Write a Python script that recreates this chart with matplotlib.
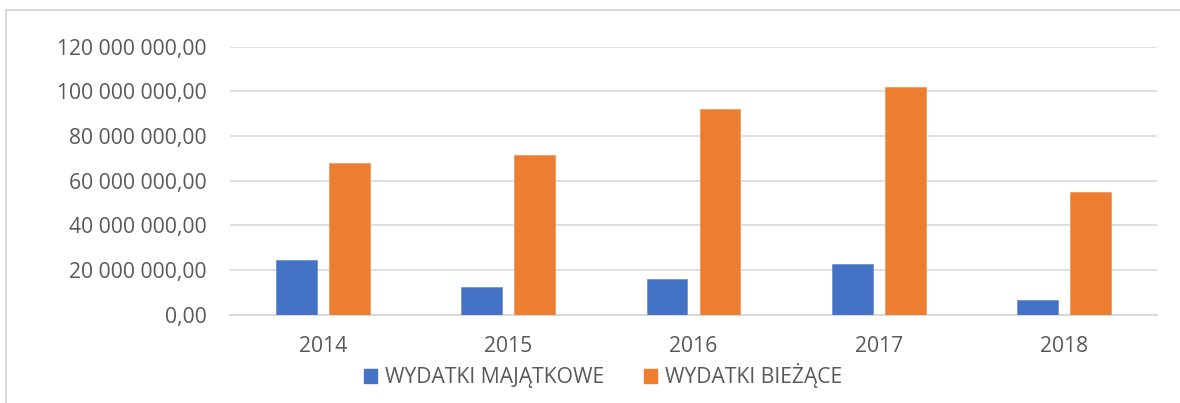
import matplotlib
matplotlib.use("Agg")
import matplotlib.pyplot as plt
from matplotlib.patches import Rectangle
from matplotlib.lines import Line2D
from matplotlib.ticker import FuncFormatter, MultipleLocator
import numpy as np

years = ["2014", "2015", "2016", "2017", "2018"]
majatkowe = [24.3e6, 12.3e6, 15.8e6, 22.6e6, 6.5e6]
biezace = [67.8e6, 71.3e6, 92.2e6, 102.1e6, 54.8e6]
series_names = ["WYDATKI MAJĄTKOWE", "WYDATKI BIEŻĄCE"]

BLUE = "#4472C4"
ORANGE = "#ED7D31"
GRID = "#D9D9D9"
TEXT = "#595959"
FS = 15.2

plt.rcParams['font.family'] = ['Open Sans', 'DejaVu Sans']

fig = plt.figure(figsize=(11.8, 4.03), dpi=100)
ax = fig.add_axes([230/1180, 1-314.5/403, (1157-230)/1180, (314.5-46.7)/403])

x = np.arange(len(years))
w = 0.221
off = 0.143
ax.bar(x - off, majatkowe, width=w, color=BLUE, edgecolor="#6F93D3", linewidth=0.6, zorder=3)
ax.bar(x + off, biezace, width=w, color=ORANGE, edgecolor="#F29A5E", linewidth=0.6, zorder=3)

ax.set_xlim(-0.5, len(years) - 0.5)
ax.set_ylim(0, 120e6)
ax.yaxis.set_major_locator(MultipleLocator(20e6))
ax.yaxis.set_major_formatter(FuncFormatter(lambda v, p: f"{v:,.2f}".replace(",", " ").replace(".", ",")))
ax.set_xticks(x)
ax.set_xticklabels(years)
ax.grid(axis="y", color=GRID, linewidth=1.2, zorder=0)
ax.set_axisbelow(True)
for s in ["top", "right", "left"]:
    ax.spines[s].set_visible(False)
ax.spines["bottom"].set_color(GRID)
ax.spines["bottom"].set_linewidth(1.4)
ax.tick_params(axis="both", length=0, labelsize=FS, labelcolor=TEXT)
ax.tick_params(axis="y", pad=16.5)
ax.tick_params(axis="x", pad=15.5)

handles = [Rectangle((0, 0), 1, 1, color=BLUE), Rectangle((0, 0), 1, 1, color=ORANGE)]
fig.legend(handles, series_names, loc="center", bbox_to_anchor=(603/1180, 1-376/403),
           ncol=2, frameon=False, fontsize=FS, labelcolor=TEXT,
           handlelength=0.62, handleheight=0.62, handletextpad=0.38, columnspacing=1.85)

# chart frame (left and top border)
fig.add_artist(Line2D([6/1180, 6/1180], [0, 1-10/403], transform=fig.transFigure, color=GRID, linewidth=1.5))
fig.add_artist(Line2D([6/1180, 1], [1-10/403, 1-10/403], transform=fig.transFigure, color=GRID, linewidth=1.5))

fig.savefig("out.png", dpi=100, facecolor="white")
